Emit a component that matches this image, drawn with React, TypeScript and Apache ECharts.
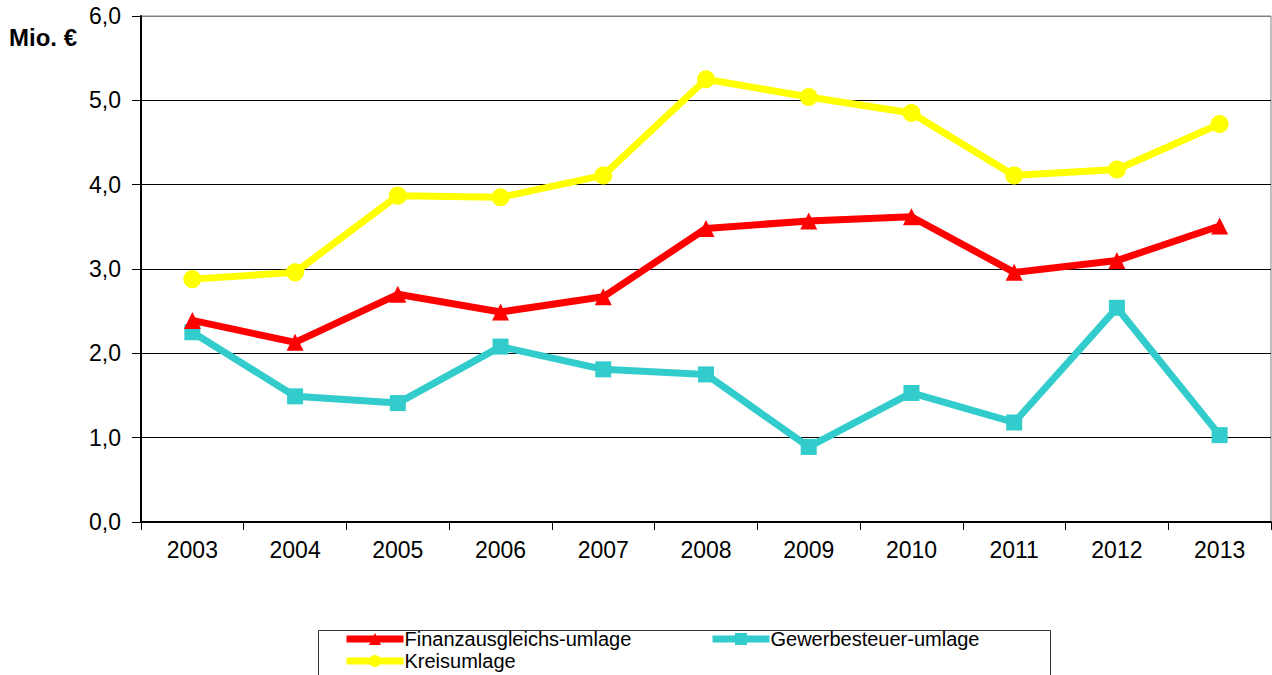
import React, { useEffect, useRef } from "react";
import * as echarts from "echarts";

const years = ["2003", "2004", "2005", "2006", "2007", "2008", "2009", "2010", "2011", "2012", "2013"];
const finanzausgleich = [2.39, 2.13, 2.7, 2.49, 2.67, 3.48, 3.57, 3.62, 2.96, 3.1, 3.51];
const gewerbesteuer = [2.25, 1.49, 1.41, 2.08, 1.81, 1.75, 0.89, 1.53, 1.18, 2.54, 1.03];
const kreisumlage = [2.88, 2.96, 3.87, 3.85, 4.11, 5.25, 5.04, 4.85, 4.11, 4.18, 4.72];
const names = ["Finanzausgleichs-umlage", "Gewerbesteuer-umlage", "Kreisumlage"];

const FONT = "'Liberation Sans', Arial, sans-serif";

export default function App() {
  const ref = useRef<HTMLDivElement>(null);
  useEffect(() => {
    if (!ref.current) return;
    const chart = echarts.init(ref.current, null, { renderer: "svg" });
    const legendCommon = {
      orient: "horizontal",
      padding: 0,
      itemWidth: 57,
      itemHeight: 15,
      itemGap: 0,
      lineStyle: { width: 7 },
      textStyle: { fontFamily: FONT, fontSize: 20, lineHeight: 18, color: "#000", padding: [0, 0, 0, -4] },
    };
    chart.setOption({
      animation: false,
      backgroundColor: "#fff",
      grid: { left: 141, right: 1, top: 16, bottom: 153, show: true, borderColor: "#808080", borderWidth: 1 },
      xAxis: {
        type: "category",
        data: years,
        boundaryGap: true,
        axisLine: { lineStyle: { color: "#000", width: 2 } },
        axisTick: { show: true, length: 8, lineStyle: { color: "#000", width: 1 } },
        axisLabel: { fontFamily: FONT, fontSize: 23, color: "#000", margin: 16 },
      },
      yAxis: {
        type: "value",
        min: 0,
        max: 6,
        interval: 1,
        axisLine: { show: true, lineStyle: { color: "#000", width: 2 } },
        axisTick: { show: true, length: 9, lineStyle: { color: "#000", width: 1 } },
        axisLabel: {
          fontFamily: FONT,
          fontSize: 23,
          color: "#000",
          margin: 20,
          formatter: (v: number) => v.toFixed(1).replace(".", ","),
        },
        splitLine: {
          show: true,
          lineStyle: { color: ["#000", "#000", "#000", "#000", "#000", "#000", "#808080"], width: 1 },
        },
      },
      legend: [
        { ...legendCommon, data: [names[0]], left: 343, top: 629 },
        { ...legendCommon, data: [names[1]], left: 709, top: 629 },
        { ...legendCommon, data: [names[2]], left: 343, top: 651 },
      ],
      graphic: [
        {
          type: "rect",
          left: 316,
          top: 628,
          shape: { width: 732, height: 60 },
          style: { fill: "none", stroke: "#333", lineWidth: 1 },
          z: -1,
        },
        {
          type: "text",
          left: 9,
          top: 25,
          style: { text: "Mio. €", fontFamily: FONT, fontSize: 24, fontWeight: "bold", fill: "#000" },
        },
      ],
      series: [
        {
          name: names[0],
          type: "line",
          data: finanzausgleich,
          symbol: "triangle",
          symbolSize: 17,
          color: "#FF0000",
          lineStyle: { width: 7, color: "#FF0000" },
          itemStyle: { color: "#FF0000" },
          z: 3,
        },
        {
          name: names[1],
          type: "line",
          data: gewerbesteuer,
          symbol: "rect",
          symbolSize: 16,
          color: "#33CCCC",
          lineStyle: { width: 7, color: "#33CCCC" },
          itemStyle: { color: "#33CCCC" },
          z: 2,
        },
        {
          name: names[2],
          type: "line",
          data: kreisumlage,
          symbol: "circle",
          symbolSize: 18,
          color: "#FFFF00",
          lineStyle: { width: 7, color: "#FFFF00" },
          itemStyle: { color: "#FFFF00" },
          z: 1,
        },
      ],
    });
    return () => chart.dispose();
  }, []);
  return (
    <div
      ref={ref}
      style={{ position: "fixed", left: 0, top: 0, width: 1272, height: 675, background: "#fff" }}
    />
  );
}
